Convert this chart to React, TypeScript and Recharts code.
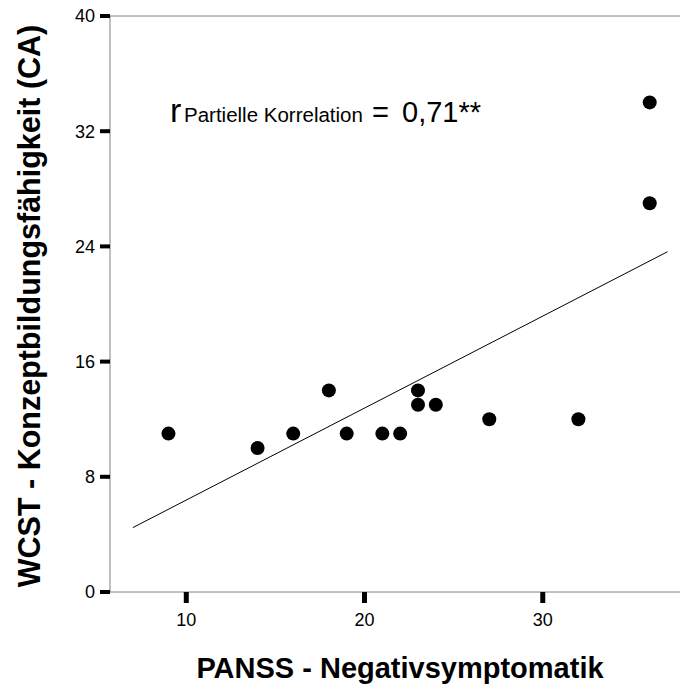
import React from 'react';
import { ScatterChart, Scatter, XAxis, YAxis, ReferenceLine, Customized } from 'recharts';

const panssValues = [9, 14, 16, 18, 19, 21, 22, 23, 23, 24, 27, 32, 36, 36];
const wcstValues = [11, 10, 11, 14, 11, 11, 11, 14, 13, 13, 12, 12, 34, 27];
const fitX = [7, 37];
const fitY = [4.47, 23.63];
const xTicks = [10, 20, 30];
const yTicks = [0, 8, 16, 24, 32, 40];

const points = panssValues.map((x, i) => ({ x, y: wcstValues[i] }));
const fitLine = fitX.map((x, i) => ({ x, y: fitY[i] }));

const FONT = 'Arial, "Liberation Sans", sans-serif';

const Dot = (props: any) => <circle cx={props.cx} cy={props.cy} r={7} fill="#000" />;
const NoDot = () => null;

const Overlay = () => (
  <g fontFamily={FONT} fill="#000">
    <text y={122}>
      <tspan x={170} fontSize={34}>r</tspan>
      <tspan x={184} fontSize={20.5}>Partielle Korrelation</tspan>
      <tspan x={372} fontSize={29}>=</tspan>
      <tspan x={402} fontSize={29}>0,71**</tspan>
    </text>
    <text x={400} y={678} textAnchor="middle" fontSize={29} fontWeight="bold">
      PANSS - Negativsymptomatik
    </text>
    <text
      x={40}
      y={306}
      textAnchor="middle"
      fontSize={30.5}
      fontWeight="bold"
      transform="rotate(-90 40 306)"
    >
      WCST - Konzeptbildungsfähigkeit (CA)
    </text>
  </g>
);

export default function App() {
  return (
    <div style={{ position: 'absolute', left: 0, top: 0, background: '#fff' }}>
      <ScatterChart width={680} height={684} margin={{ top: 16, right: 0, left: 50, bottom: 32 }}>
        <XAxis
          type="number"
          dataKey="x"
          domain={[5.72, 37.7]}
          ticks={xTicks}
          allowDataOverflow
          height={60}
          axisLine={{ stroke: '#808080', strokeWidth: 1 }}
          tickLine={{ stroke: '#000', strokeWidth: 5 }}
          tickSize={11}
          tickMargin={10}
          tick={{ fill: '#000', fontSize: 18, fontFamily: FONT }}
        />
        <YAxis
          type="number"
          dataKey="y"
          domain={[0, 40]}
          ticks={yTicks}
          allowDataOverflow
          width={60}
          axisLine={{ stroke: '#808080', strokeWidth: 1 }}
          tickLine={{ stroke: '#000', strokeWidth: 4 }}
          tickSize={10}
          tickMargin={5}
          tick={{ fill: '#000', fontSize: 18, fontFamily: FONT }}
        />
        <ReferenceLine y={40} stroke="#808080" strokeWidth={1} />
        <Scatter
          data={fitLine}
          line={{ stroke: '#000', strokeWidth: 1 }}
          shape={NoDot}
          isAnimationActive={false}
        />
        <Scatter data={points} shape={Dot} fill="#000" isAnimationActive={false} />
        <Customized component={Overlay} />
      </ScatterChart>
    </div>
  );
}
